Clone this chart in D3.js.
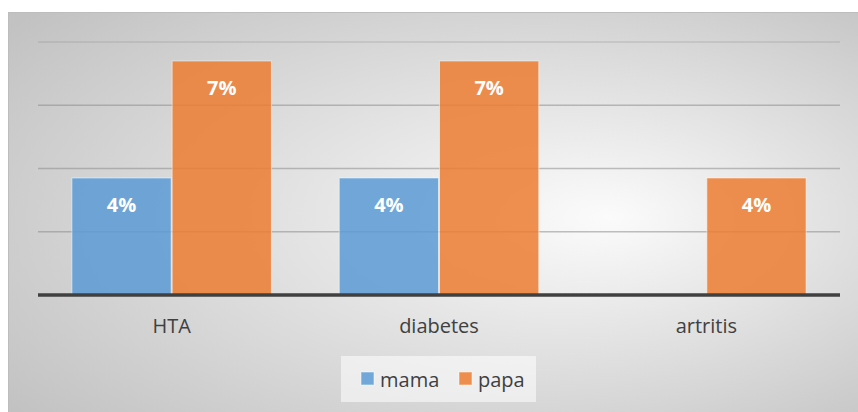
<!DOCTYPE html>
<html>
<head>
<meta charset="utf-8">
<script src="https://cdn.jsdelivr.net/npm/d3@7/dist/d3.min.js"></script>
<style>
  body { margin: 0; background: #fff; }
  svg { display: block; font-family: "Open Sans", sans-serif; }
</style>
</head>
<body>
<div id="chart"></div>
<script>
// data
var categories = ["HTA", "diabetes", "artritis"];
var seriesNames = ["mama", "papa"];
var mamaValues = [0.037, 0.037, null];
var papaValues = [0.074, 0.074, 0.037];
var yTicks = [0, 0.02, 0.04, 0.06, 0.08];

var colors = { mama: "#5B9BD5", papa: "#ED7D31" };

var width = 858, height = 412;
var plot = { left: 38, right: 840, top: 42, bottom: 295 };

var svg = d3.select("#chart").append("svg")
    .attr("width", width)
    .attr("height", height);

var defs = svg.append("defs");
var grad = defs.append("radialGradient")
    .attr("id", "bg")
    .attr("cx", 0.55).attr("cy", 0.5).attr("r", 0.72)
    .attr("fx", 0.7).attr("fy", 0.5);
grad.append("stop").attr("offset", "0%").attr("stop-color", "#fbfbfb");
grad.append("stop").attr("offset", "100%").attr("stop-color", "#c2c2c2");

// chart area
svg.append("rect")
    .attr("x", 8.5).attr("y", 12.5)
    .attr("width", 860).attr("height", 410)
    .attr("fill", "url(#bg)")
    .attr("stroke", "#bdbdbd")
    .attr("stroke-width", 1);

var x0 = d3.scaleBand()
    .domain(categories)
    .range([plot.left, plot.right])
    .paddingInner(0.25)
    .paddingOuter(0.125);

var x1 = d3.scaleBand()
    .domain(seriesNames)
    .range([0, x0.bandwidth()]);

var y = d3.scaleLinear()
    .domain([0, 0.08])
    .range([plot.bottom, plot.top]);

// gridlines
svg.append("g")
    .selectAll("line")
    .data(yTicks.filter(function(d) { return d > 0; }))
    .enter().append("line")
    .attr("x1", plot.left)
    .attr("x2", plot.right)
    .attr("y1", function(d) { return y(d); })
    .attr("y2", function(d) { return y(d); })
    .attr("stroke", "#8c8c8c")
    .attr("stroke-opacity", function(d) { return d === 0.08 ? 0.3 : 0.55; })
    .attr("stroke-width", 1.5);

var rows = categories.map(function(c, i) {
    return [
        { cat: c, name: "mama", value: mamaValues[i] },
        { cat: c, name: "papa", value: papaValues[i] }
    ];
});

var groups = svg.append("g")
    .selectAll("g")
    .data(rows)
    .enter().append("g")
    .attr("transform", function(d, i) { return "translate(" + x0(categories[i]) + ",0)"; });

var bars = groups.selectAll("g")
    .data(function(d) { return d.filter(function(e) { return e.value != null; }); })
    .enter().append("g");

bars.append("rect")
    .attr("x", function(d) { return x1(d.name) + 0.5; })
    .attr("y", function(d) { return y(d.value); })
    .attr("width", x1.bandwidth() - 1)
    .attr("height", function(d) { return y(0) - y(d.value); })
    .attr("fill", function(d) { return colors[d.name]; })
    .attr("fill-opacity", 0.85)
    .attr("stroke", "#ffffff")
    .attr("stroke-opacity", 0.5)
    .attr("stroke-width", 1);

bars.append("text")
    .attr("x", function(d) { return x1(d.name) + x1.bandwidth() / 2; })
    .attr("y", function(d) { return y(d.value) + 34; })
    .attr("text-anchor", "middle")
    .attr("fill", "#ffffff")
    .attr("font-weight", "bold")
    .attr("font-size", 20)
    .text(function(d) { return d3.format(".0%")(d.value); });

// baseline
svg.append("line")
    .attr("x1", plot.left)
    .attr("x2", plot.right)
    .attr("y1", y(0))
    .attr("y2", y(0))
    .attr("stroke", "#404040")
    .attr("stroke-width", 3.5);

// category labels
var xAxis = d3.axisBottom(x0).tickSize(0).tickPadding(0);
var gx = svg.append("g")
    .attr("transform", "translate(0," + y(0) + ")")
    .call(xAxis);
gx.select(".domain").remove();
gx.selectAll("text")
    .attr("dy", null)
    .attr("y", 38)
    .attr("fill", "#404040")
    .attr("font-size", 20)
    .attr("font-family", "Open Sans, sans-serif");

// legend
var legend = svg.append("g");
legend.append("rect")
    .attr("x", 341).attr("y", 356)
    .attr("width", 195).attr("height", 46)
    .attr("fill", "#ffffff")
    .attr("fill-opacity", 0.55);

var legendX = [361, 459];
var items = legend.selectAll("g")
    .data(seriesNames)
    .enter().append("g")
    .attr("transform", function(d, i) { return "translate(" + legendX[i] + ",372)"; });

items.append("rect")
    .attr("width", 13).attr("height", 13)
    .attr("fill", function(d) { return colors[d]; })
    .attr("fill-opacity", 0.85)
    .attr("stroke", "#ffffff")
    .attr("stroke-opacity", 0.5);

items.append("text")
    .attr("x", 19)
    .attr("y", 15)
    .attr("fill", "#404040")
    .attr("font-size", 20)
    .text(function(d) { return d; });
</script>
</body>
</html>
